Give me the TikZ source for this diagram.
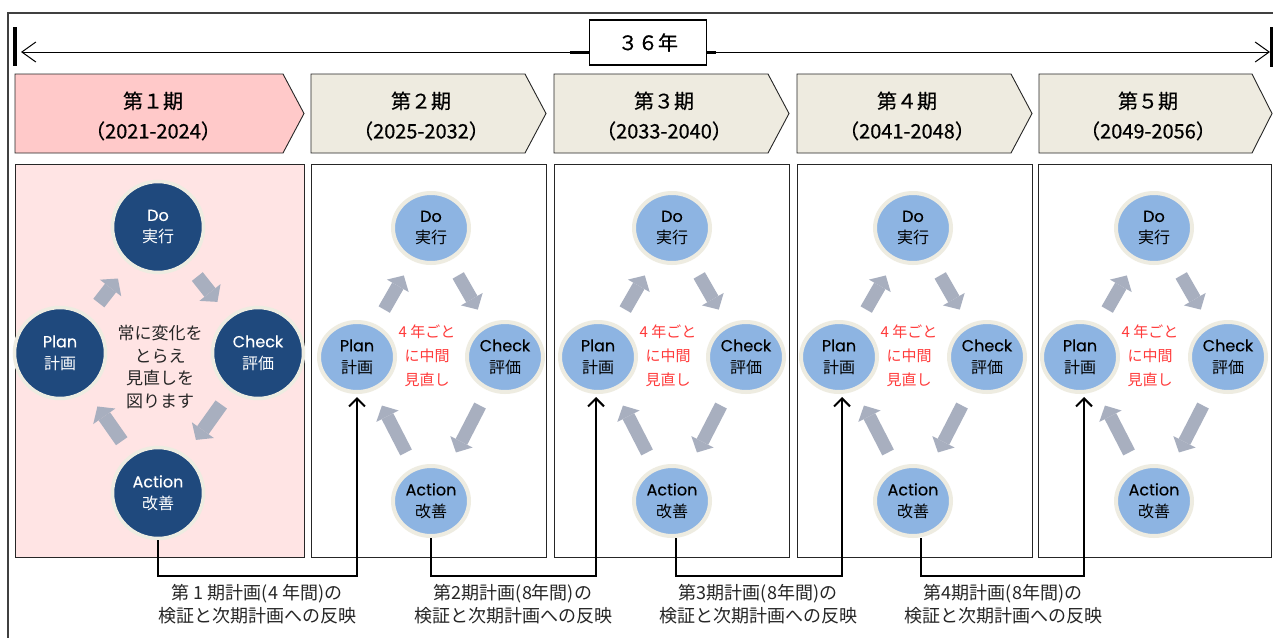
\documentclass[tikz,border=0pt]{standalone}
\usepackage{fontspec}
\setmainfont{Noto Sans CJK JP}
\newfontfamily\lat{Poppins}[FakeBold=0.3]
\newfontfamily\hdrf{Noto Sans CJK JP}[FakeBold=0.5]
\usetikzlibrary{arrows.meta,shapes.geometric,calc}
\definecolor{navy}{HTML}{1F497D}
\definecolor{lblue}{HTML}{8DB4E2}
\definecolor{ring}{HTML}{EEECE1}
\definecolor{agray}{HTML}{A8AFBF}
\definecolor{pinkbg}{HTML}{FFE4E4}
\definecolor{hdrpink}{HTML}{FFC9C9}
\definecolor{cream}{HTML}{EEEBE0}
\definecolor{redtxt}{HTML}{FF3B3B}
\begin{document}
\begin{tikzpicture}[x=1pt,y=-1pt,
  hdrshape/.style={draw=black!85, line width=0.9pt},
  hdrtext/.style={align=center, inner sep=0pt, font=\hdrf\fontsize{20}{30}\selectfont},
  panelbox/.style={draw=black!85, line width=0.9pt, minimum width=235pt, minimum height=393pt, anchor=north west, inner sep=0pt},
  bigc/.style={circle, fill=navy, draw=ring, line width=3.5pt, minimum size=91pt, inner sep=0pt, text=white, align=center, font=\fontsize{16}{22}\selectfont},
  smc/.style={ellipse, fill=lblue, draw=ring, line width=4pt, minimum width=76pt, minimum height=70pt, inner sep=0pt, text=black, align=center, font=\fontsize{16}{22}\selectfont},
  blkA/.style={draw=agray, line width=14pt, -{Triangle[length=12pt,width=27pt,line width=0pt]}, shorten <=16pt, shorten >=18pt},
  blkB/.style={draw=agray, line width=13pt, -{Triangle[length=12pt,width=25pt,line width=0pt]}, shorten <=17pt, shorten >=17pt},
  conn/.style={draw=black, line width=2pt, -{Straight Barb[length=8pt,width=16pt]}},
  lab/.style={align=center, inner sep=0pt, font=\fontsize{18}{23}\selectfont, text=black!85},
  redc/.style={align=center, inner sep=0pt, text=redtxt, font=\fontsize{15}{24}\selectfont},
  midc/.style={align=center, inner sep=0pt, text=black!85, font=\fontsize{17}{22.5}\selectfont}]
\useasboundingbox (0,0) rectangle (1273,637);
\clip (0,0) rectangle (1273,637);
\fill[white] (0,0) rectangle (1273,637);
% outer frame
\draw[line width=1.5pt, black!75] (8,700) -- (8,13) -- (1300,13);
% timeline
\coordinate (tl) at (21,52);
\coordinate (tr) at (1270,52);
\draw[line width=1pt, {Straight Barb[length=14pt,width=20pt]}-{Straight Barb[length=14pt,width=20pt]}] (tl) -- (tr);
\draw[line width=3.5pt] (15,27) -- (15,66);
\draw[line width=3.5pt] (1272,27) -- (1272,67);
\node[draw=black, line width=1.2pt, fill=white, minimum width=117pt, minimum height=45pt, inner sep=0pt, font=\hdrf\fontsize{20}{24}\selectfont] (yr) at (648,42.5) {３６年};
\draw[line width=3pt] (yr.west |- tl) -- ++(-19,0);
\draw[line width=3pt] (yr.east |- tl) -- ++(9,0);
% headers
\filldraw[hdrshape, fill=hdrpink] (15,74) -- (283,74) -- (304,113.5) -- (283,153) -- (15,153) -- cycle;
\foreach \L in {311,554,797}
  \filldraw[hdrshape, fill=cream] (\L,74) -- ++(214,0) -- ++(21,39.5) -- ++(-21,39.5) -- ++(-214,0) -- cycle;
\filldraw[hdrshape, fill=cream] (1039,74) -- ++(213,0) -- ++(20,39.5) -- ++(-20,39.5) -- ++(-213,0) -- cycle;
\node[hdrtext] (h1) at (153,116) {第１期\\（2021-2024）};
\node[hdrtext] (h2) at (421,116) {第２期\\（2025-2032）};
\node[hdrtext] (h3) at (664,116) {第３期\\（2033-2040）};
\node[hdrtext] (h4) at (907,116) {第４期\\（2041-2048）};
\node[hdrtext] (h5) at (1148,116) {第５期\\（2049-2056）};
% panels
\node[panelbox, fill=pinkbg, minimum width=289pt] (pan1) at (15,164) {};
\node[panelbox] (pan2) at (311,164) {};
\node[panelbox] (pan3) at (554,164) {};
\node[panelbox] (pan4) at (797,164) {};
\node[panelbox, minimum width=233pt] (pan5) at (1038,164) {};
% panel 1 cycle
\node[bigc] (do1) at (158,227) {{\lat Do}\\実行};
\node[bigc] (pl1) at (60,353) {{\lat Plan}\\計画};
\node[bigc] (ch1) at (258,353) {{\lat Check}\\評価};
\node[bigc] (ac1) at (158,493) {{\lat Action}\\改善};
\node[midc] (m1) at (160,367) {常に変化を\\とらえ\\見直しを\\図ります};
\draw[blkA] (pl1) -- (do1);
\draw[blkA] (do1) -- (ch1);
\draw[blkA] (ch1) -- (ac1);
\draw[blkA] (ac1) -- (pl1);
% panels 2-5 cycles
\foreach \k/\dx in {2/431, 3/672, 4/913, 5/1154} {
  \node[smc] (do\k) at (\dx,228) {{\lat Do}\\実行};
  \node[smc] (pl\k) at (\dx-74,357) {{\lat Plan}\\計画};
  \node[smc] (ch\k) at (\dx+74,357) {{\lat Check}\\評価};
  \node[smc] (ac\k) at (\dx,501) {{\lat Action}\\改善};
  \node[redc] (r\k) at (\dx-4,356) {4 年ごと\\に中間\\見直し};
  \draw[blkB] (pl\k) -- (do\k);
  \draw[blkB] (do\k) -- (ch\k);
  \draw[blkB] (ch\k) -- (ac\k);
  \draw[blkB] (ac\k) -- (pl\k);
}
% brackets
\coordinate (bl) at (0,576);
\coordinate (s1) at (ac1.south);
\coordinate (s2) at (ac2.south);
\coordinate (s3) at ($(ac3.south)+(4,0)$);
\coordinate (s4) at ($(ac4.south)+(8,0)$);
\coordinate (e2) at (pl2.south);
\coordinate (e3) at ($(pl3.south)+(-2,0)$);
\coordinate (e4) at ($(pl4.south)+(3,0)$);
\coordinate (e5) at ($(pl5.south)+(4,0)$);
\draw[conn, shorten >=3pt] (s1) -- (s1 |- bl) -- (e2 |- bl) -- (e2);
\draw[conn, shorten >=3pt] (s2) -- (s2 |- bl) -- (e3 |- bl) -- (e3);
\draw[conn, shorten >=3pt] (s3) -- (s3 |- bl) -- (e4 |- bl) -- (e4);
\draw[conn, shorten >=3pt] (s4) -- (s4 |- bl) -- (e5 |- bl) -- (e5);
% labels
\node[lab] (lb1) at (257,604) {第 1 期計画(4 年間)の\\検証と次期計画への反映};
\node[lab] (lb2) at (513,604) {第2期計画(8年間)の\\検証と次期計画への反映};
\node[lab] (lb3) at (758,604) {第3期計画(8年間)の\\検証と次期計画への反映};
\node[lab] (lb4) at (1003,604) {第4期計画(8年間)の\\検証と次期計画への反映};
\end{tikzpicture}
\end{document}
